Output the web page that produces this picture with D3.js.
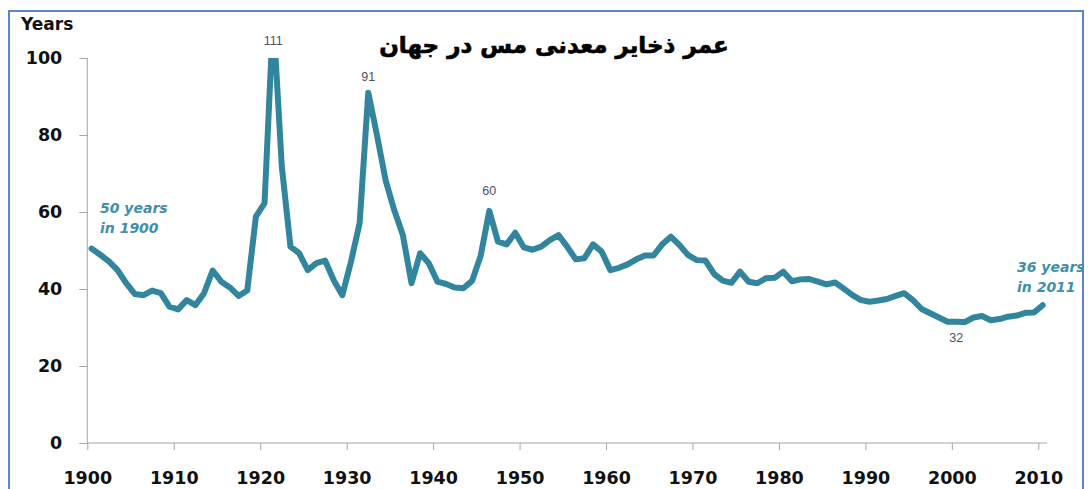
<!DOCTYPE html>
<html>
<head>
<meta charset="utf-8">
<script src="https://cdn.jsdelivr.net/npm/d3@7"></script>
<style>
  body { margin: 0; background: #fff; }
  svg { display: block; }
</style>
</head>
<body>
<script>
const startYear = 1900;
const years = d3.range(startYear, startYear + 111);
const reserveYears = [
  50.5, 48.9, 47.2, 44.9, 41.5, 38.7, 38.4, 39.6, 38.9, 35.4,
  34.7, 37.1, 35.8, 38.9, 44.8, 41.9, 40.4, 38.2, 39.6, 58.8,
  62.3, 111, 71.8, 51, 49.3, 44.9, 46.7, 47.4, 42.3, 38.4,
  47.1, 57.1, 91, 80, 68.3, 60.5, 54, 41.5, 49.3, 46.7,
  41.9, 41.3, 40.4, 40.2, 42.1, 48.6, 60.3, 52.3, 51.6, 54.6,
  50.8, 50.2, 51, 52.7, 54, 51, 47.7, 48, 51.6, 49.7,
  44.9, 45.5, 46.4, 47.7, 48.7, 48.7, 51.6, 53.6, 51.4, 48.8,
  47.5, 47.4, 43.9, 42.2, 41.6, 44.5, 41.9, 41.5, 42.8, 42.9,
  44.5, 42, 42.5, 42.6, 41.9, 41.2, 41.7, 40.1, 38.4, 37.1,
  36.7, 37, 37.4, 38.2, 38.9, 37.1, 34.8, 33.7, 32.6, 31.5,
  31.5, 31.4, 32.6, 33, 31.9, 32.2, 32.8, 33.1, 33.8, 33.9,
  35.8
];
const xTicks = [1900, 1910, 1920, 1930, 1940, 1950, 1960, 1970, 1980, 1990, 2000, 2010];
const yTicks = [0, 20, 40, 60, 80, 100];
// labelled points: index into the series, text, offset above/below
const pointLabels = [
  { i: 21, text: '111', dy: -13 },
  { i: 32, text: '91', dy: -12 },
  { i: 46, text: '60', dy: -16 },
  { i: 100, text: '32', dy: 20 }
];

const width = 1088;
const height = 489;
const lineColor = '#31859c';

const x = d3.scaleLinear().domain([1900, 2010]).range([87.3, 1038.3]);
const y = d3.scaleLinear().domain([0, 100]).range([443, 58]);

const svg = d3.select('body')
  .append('svg')
  .attr('width', width)
  .attr('height', height);

// outer frame
svg.append('rect')
  .attr('x', 9)
  .attr('y', 11)
  .attr('width', 1074)
  .attr('height', 500)
  .attr('fill', 'none')
  .attr('stroke', '#5b87c6')
  .attr('stroke-width', 2);

svg.append('text')
  .attr('x', 554)
  .attr('y', 53)
  .style('text-anchor', 'middle')
  .style('font-family', 'DejaVu Sans')
  .style('font-weight', 'bold')
  .style('font-size', '23px')
  .style('fill', '#000')
  .style('stroke', '#000')
  .style('stroke-width', 0.7)
  .text('عمر ذخایر معدنی مس در جهان');

svg.append('text')
  .attr('x', 21)
  .attr('y', 30)
  .style('font-family', 'DejaVu Sans')
  .style('font-weight', 'bold')
  .style('font-size', '17px')
  .style('fill', '#111')
  .text('Years');

// axes
const yAxis = d3.axisLeft(y)
  .tickValues(yTicks)
  .tickSize(8)
  .tickPadding(17)
  .tickFormat(d3.format('d'));

const gy = svg.append('g')
  .attr('transform', `translate(${x(1900)},0)`)
  .call(yAxis);

const xAxis = d3.axisBottom(x)
  .tickValues(xTicks)
  .tickSize(7)
  .tickPadding(22)
  .tickFormat(d3.format('d'));

const gx = svg.append('g')
  .attr('transform', `translate(0,${y(0)})`)
  .call(xAxis);

[gx, gy].forEach(g => {
  g.select('.domain').remove();
  g.selectAll('line').attr('stroke', '#a6a6a6');
  g.selectAll('text')
    .style('font-family', 'DejaVu Sans')
    .style('font-weight', 'bold')
    .style('font-size', '17.5px')
    .style('fill', '#111');
});

svg.append('line')
  .attr('x1', x(1900)).attr('x2', x(2011))
  .attr('y1', y(0)).attr('y2', y(0))
  .attr('stroke', '#a6a6a6');

svg.append('line')
  .attr('x1', x(1900)).attr('x2', x(1900))
  .attr('y1', y(0)).attr('y2', y(100))
  .attr('stroke', '#a6a6a6');

// plot area clip so the 111 peak is cut at 100
svg.append('clipPath')
  .attr('id', 'plot-clip')
  .append('rect')
  .attr('x', x(1900))
  .attr('y', y(100))
  .attr('width', x(2011) - x(1900) + 10)
  .attr('height', y(0) - y(100));

const line = d3.line()
  .x((d, i) => x(years[i] + 0.5))
  .y(d => y(d));

svg.append('path')
  .datum(reserveYears)
  .attr('clip-path', 'url(#plot-clip)')
  .attr('d', line)
  .attr('fill', 'none')
  .attr('stroke', lineColor)
  .attr('stroke-width', 6)
  .attr('stroke-linejoin', 'round')
  .attr('stroke-linecap', 'round');

svg.selectAll('.point-label')
  .data(pointLabels)
  .enter()
  .append('text')
  .attr('class', 'point-label')
  .attr('x', d => x(years[d.i] + 0.5))
  .attr('y', d => y(Math.min(reserveYears[d.i], 100)) + d.dy)
  .style('text-anchor', 'middle')
  .style('font-family', 'Liberation Sans')
  .style('font-size', '12.5px')
  .style('fill', '#4f4f68')
  .text(d => d.text);

// start / end callouts
const callouts = [
  { x: 100, y: 213, lines: ['50 years', 'in 1900'] },
  { x: 1017, y: 272, lines: ['36 years', 'in 2011'] }
];

callouts.forEach(c => {
  const t = svg.append('text')
    .attr('x', c.x)
    .attr('y', c.y)
    .style('font-family', 'DejaVu Sans')
    .style('font-weight', 'bold')
    .style('font-style', 'italic')
    .style('font-size', '14px')
    .style('fill', '#3f8fab');
  c.lines.forEach((l, k) => {
    t.append('tspan')
      .attr('x', c.x)
      .attr('dy', k === 0 ? 0 : 19.5)
      .text(l);
  });
});
</script>
</body>
</html>
